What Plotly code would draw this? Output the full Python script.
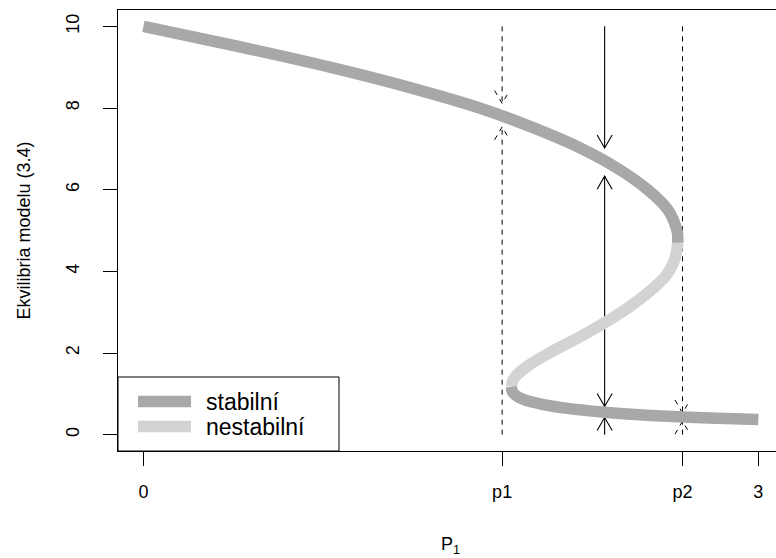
import math
import plotly.graph_objects as go

# ---- data ----
upper_N = [10.0, 9.5, 9.0, 8.5, 8.0, 7.5, 7.0, 6.5, 6.0, 5.5, 5.2, 4.95, 4.7]
upper_P = [0.0, 0.47, 0.91, 1.30, 1.64, 1.91, 2.14, 2.32, 2.46, 2.56, 2.59, 2.605, 2.607]
mid_N = [4.7, 4.45, 4.2, 3.9, 3.6, 3.2, 2.8, 2.4, 2.0, 1.7, 1.45, 1.3, 1.17]
mid_P = [2.607, 2.60, 2.585, 2.55, 2.49, 2.39, 2.27, 2.13, 1.98, 1.88, 1.82, 1.80, 1.795]
low_N = [1.17, 1.05, 0.95, 0.85, 0.75, 0.65, 0.55, 0.5, 0.45, 0.41, 0.37]
low_P = [1.795, 1.80, 1.82, 1.86, 1.94, 2.06, 2.25, 2.38, 2.56, 2.76, 3.0]

p1 = 1.75
p2 = 2.63
x_tickvals = [0, p1, p2, 3]
x_ticktext = ["0", "p1", "p2", "3"]
y_tickvals = [0, 2, 4, 6, 8, 10]

# arrows: position on P axis, start N, end N (head at end)
solid_P = [2.25, 2.25, 2.25, 2.25]
solid_from = [10.0, 2.75, 2.75, 0.0]
solid_to = [7.02, 6.33, 0.69, 0.42]
dashed_P = [p1, p1, p2, p2]
dashed_from = [10.0, 0.0, 10.0, 0.0]
dashed_to = [8.11, 7.54, 0.53, 0.33]

legend_labels = ["stabilní", "nestabilní"]
x_title = "P<sub>1</sub>"
y_title = "Ekvilibria modelu (3.4)"

# ---- styling / geometry ----
W, H = 776, 558
ML, MR, MT, MB = 118, 0, 10, 107
xr = [-0.124, 3.086]
yr = [-0.4, 10.4]
pw, ph = W - ML - MR, H - MT - MB
pxx = pw / (xr[1] - xr[0])
pxy = ph / (yr[1] - yr[0])
C_STAB = "#a8a8a8"
C_UNST = "#d3d3d3"
FONT = "Liberation Sans, Arial, sans-serif"
FS = 18
FS_LEG = 23
LW = 11.5


def arrow_xy(P, a, b, head_px=15.0, ang=30.0):
    xs, ys = [P, P, None], [a, b, None]
    d = 1 if b > a else -1
    dx = head_px * math.sin(math.radians(ang)) / pxx
    dy = head_px * math.cos(math.radians(ang)) / pxy
    xs += [P - dx, P, P + dx, None]
    ys += [b - d * dy, b, b - d * dy, None]
    return xs, ys


fig = go.Figure()

# dashed arrows
dx_all, dy_all = [], []
for P, a, b in zip(dashed_P, dashed_from, dashed_to):
    xs, ys = arrow_xy(P, a, b)
    dx_all += xs
    dy_all += ys
fig.add_trace(go.Scatter(x=dx_all, y=dy_all, mode="lines", showlegend=False,
                         line=dict(color="black", width=1, dash="5px,5px"),
                         hoverinfo="skip"))

# solid arrows
sx_all, sy_all = [], []
for P, a, b in zip(solid_P, solid_from, solid_to):
    xs, ys = arrow_xy(P, a, b)
    sx_all += xs
    sy_all += ys
fig.add_trace(go.Scatter(x=sx_all, y=sy_all, mode="lines", showlegend=False,
                         line=dict(color="black", width=1.1),
                         hoverinfo="skip"))

# curve branches
fig.add_trace(go.Scatter(x=mid_P, y=mid_N, mode="lines", name=legend_labels[1],
                         line=dict(color=C_UNST, width=LW, shape="spline", smoothing=0.8),
                         showlegend=False))
fig.add_trace(go.Scatter(x=upper_P, y=upper_N, mode="lines", name=legend_labels[0],
                         line=dict(color=C_STAB, width=LW, shape="spline", smoothing=0.8),
                         showlegend=False))
fig.add_trace(go.Scatter(x=low_P, y=low_N, mode="lines", name=legend_labels[0],
                         line=dict(color=C_STAB, width=LW, shape="spline", smoothing=0.8),
                         showlegend=False))

# manual legend (R style box in the bottom-left corner)
leg_right = xr[0] + (339 - ML) / pxx
leg_top = yr[0] + (H - MB - 377) / pxy
shapes = [dict(type="rect", xref="x", yref="y", x0=xr[0], x1=leg_right,
               y0=yr[0], y1=leg_top, line=dict(color="black", width=1),
               fillcolor="white", layer="above")]
annotations = []
for i, (lab, col) in enumerate(zip(legend_labels, [C_STAB, C_UNST])):
    ypix = 401.5 + 25 * i
    yv = yr[0] + (H - MB - ypix) / pxy
    x0 = xr[0] + (138 - ML) / pxx
    x1 = xr[0] + (191 - ML) / pxx
    shapes.append(dict(type="line", xref="x", yref="y", x0=x0, x1=x1, y0=yv, y1=yv,
                       line=dict(color=col, width=LW), layer="above"))
    annotations.append(dict(x=xr[0] + (204 - ML) / pxx, y=yv, xref="x", yref="y",
                            text=lab, showarrow=False, xanchor="left", yanchor="middle",
                            font=dict(family=FONT, size=FS_LEG, color="black")))

# x-axis title centred on the full (R) plot region, which extends past the image edge
annotations.append(dict(x=1.5, xref="x", y=-(545 - (H - MB)) / ph, yref="paper",
                        text=x_title, showarrow=False, xanchor="center", yanchor="middle",
                        font=dict(family=FONT, size=FS, color="black")))

fig.update_layout(
    width=W, height=H,
    margin=dict(l=ML, r=MR, t=MT, b=MB, pad=0),
    paper_bgcolor="white", plot_bgcolor="white",
    font=dict(family=FONT, size=FS, color="black"),
    shapes=shapes, annotations=annotations,
    xaxis=dict(range=xr, tickvals=x_tickvals, ticktext=x_ticktext,
               showgrid=False, zeroline=False, showline=True, mirror=True,
               linecolor="black", linewidth=1, ticks="outside", ticklen=14,
               tickcolor="black", tickwidth=1, ticklabelstandoff=10),
    yaxis=dict(range=yr, tickvals=y_tickvals, tickangle=-90,
               showgrid=False, zeroline=False, showline=True, mirror=False,
               linecolor="black", linewidth=1, ticks="outside", ticklen=14,
               tickcolor="black", tickwidth=1, ticklabelstandoff=17,
               title=dict(text=y_title, standoff=27,
                          font=dict(family=FONT, size=FS))),
)

fig.write_html("out.html")
